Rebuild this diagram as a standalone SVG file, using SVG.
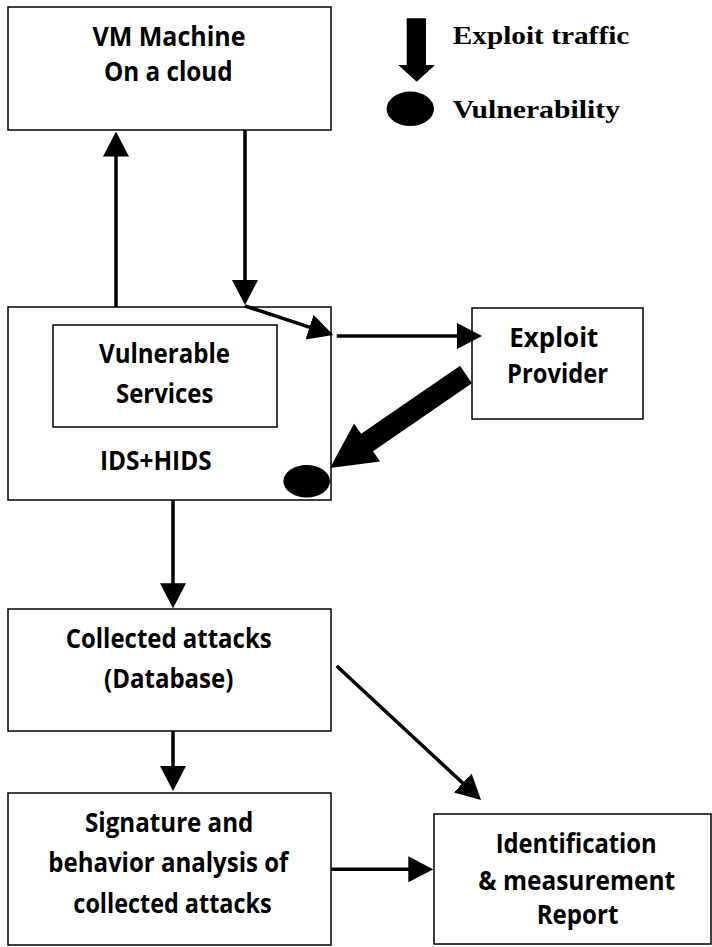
<svg xmlns="http://www.w3.org/2000/svg" width="712" height="947" viewBox="0 0 712 947">
  <style>
    .box { fill: #fff; stroke: #000; stroke-width: 1.5; }
    .lbl { font-family: "Open Sans", "Liberation Sans", sans-serif; font-weight: 700; font-size: 26px; fill: #000; text-anchor: middle; }
    .leg { font-family: "Liberation Serif", "Times New Roman", serif; font-weight: 700; font-size: 26px; fill: #000; }
    .conn { stroke: #000; stroke-width: 3.5; fill: none; marker-end: url(#ah); }
  </style>
  <defs>
    <marker id="ah" markerUnits="userSpaceOnUse" viewBox="0 0 25 26" markerWidth="25" markerHeight="26" refX="15" refY="13" orient="auto">
      <path d="M0,0 L25,13 L0,26 z" fill="#000"/>
    </marker>
  </defs>
  <rect width="712" height="947" fill="#fff"/>

  <g id="legend">
    <polygon points="406.7,18.3 426,18.3 426,65 435,65 416.7,81.7 398.3,65 406.7,65" fill="#000"/>
    <text class="leg" x="452.7" y="44" textLength="176.6" lengthAdjust="spacingAndGlyphs">Exploit traffic</text>
    <ellipse cx="410.3" cy="108.8" rx="23.7" ry="17.2" fill="#000"/>
    <text class="leg" x="452.7" y="118.3" textLength="167.3" lengthAdjust="spacingAndGlyphs">Vulnerability</text>
  </g>

  <g id="vm">
    <rect class="box" x="8" y="7" width="323" height="123"/>
    <text class="lbl" x="169" y="45.7" textLength="153" lengthAdjust="spacingAndGlyphs">VM Machine</text>
    <text class="lbl" x="168.3" y="81" textLength="128.7" lengthAdjust="spacingAndGlyphs">On a cloud</text>
  </g>

  <g id="ids">
    <rect class="box" x="8" y="307" width="323" height="193"/>
    <text class="lbl" x="155.8" y="470" textLength="111.7" lengthAdjust="spacingAndGlyphs">IDS+HIDS</text>
    <ellipse cx="306.7" cy="481.3" rx="23.3" ry="16.3" fill="#000"/>
  </g>

  <g id="vulnerable-services">
    <rect class="box" x="53" y="325" width="224" height="102"/>
    <text class="lbl" x="164.5" y="363.3" textLength="131" lengthAdjust="spacingAndGlyphs">Vulnerable</text>
    <text class="lbl" x="164.7" y="403.3" textLength="97.3" lengthAdjust="spacingAndGlyphs">Services</text>
  </g>

  <g id="exploit-provider">
    <rect class="box" x="472" y="308" width="171" height="111"/>
    <text class="lbl" x="553.8" y="346.7" textLength="89" lengthAdjust="spacingAndGlyphs">Exploit</text>
    <text class="lbl" x="557.5" y="383" textLength="101" lengthAdjust="spacingAndGlyphs">Provider</text>
  </g>

  <g id="collected">
    <rect class="box" x="8" y="609" width="323" height="122"/>
    <text class="lbl" x="168.7" y="648.3" textLength="206" lengthAdjust="spacingAndGlyphs">Collected attacks</text>
    <text class="lbl" x="168.7" y="688.3" textLength="129.3" lengthAdjust="spacingAndGlyphs">(Database)</text>
  </g>

  <g id="signature">
    <rect class="box" x="8" y="793" width="323" height="152"/>
    <text class="lbl" x="169.2" y="831.7" textLength="168.3" lengthAdjust="spacingAndGlyphs">Signature and</text>
    <text class="lbl" x="168.3" y="871.7" textLength="240" lengthAdjust="spacingAndGlyphs">behavior analysis of</text>
    <text class="lbl" x="172.5" y="912.7" textLength="198.3" lengthAdjust="spacingAndGlyphs">collected attacks</text>
  </g>

  <g id="report">
    <rect class="box" x="434" y="814" width="277" height="130"/>
    <text class="lbl" x="576.2" y="853.3" textLength="161" lengthAdjust="spacingAndGlyphs">Identification</text>
    <text class="lbl" x="576.7" y="890" textLength="196.7" lengthAdjust="spacingAndGlyphs">&amp; measurement</text>
    <text class="lbl" x="577.5" y="924" textLength="81.7" lengthAdjust="spacingAndGlyphs">Report</text>
  </g>

  <g id="connectors">
    <line class="conn" x1="116" y1="307" x2="116" y2="141.5"/>
    <line class="conn" x1="245" y1="130" x2="245" y2="295"/>
    <line class="conn" x1="245" y1="306" x2="323.8" y2="331.9"/>
    <line class="conn" x1="336.7" y1="336" x2="472" y2="336"/>
    <polygon points="460.05,365.85 361.13,433.86 354.05,423.56 330,468 380.11,461.46 373.03,451.16 471.95,383.15" fill="#000"/>
    <line class="conn" x1="173" y1="500" x2="173" y2="598.3"/>
    <line class="conn" x1="336.7" y1="666" x2="473.7" y2="793.2"/>
    <line class="conn" x1="173" y1="731" x2="173" y2="781"/>
    <line class="conn" x1="331" y1="869.3" x2="423.3" y2="869.3"/>
  </g>
</svg>
